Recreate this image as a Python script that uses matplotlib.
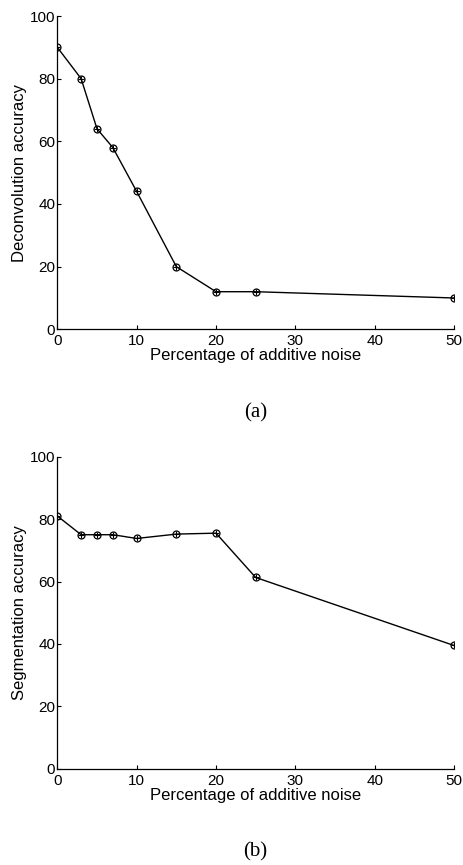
import matplotlib
matplotlib.use("Agg")
import matplotlib.pyplot as plt

plt.rcParams['font.family'] = ['Liberation Sans', 'DejaVu Sans']

# noise levels (%) shared by both experiments
noise = [0, 3, 5, 7, 10, 15, 20, 25, 50]
deconv_acc = [90, 80, 64, 58, 44, 20, 12, 12, 10]
segm_acc = [81, 75, 75, 75, 73.8, 75.2, 75.5, 61.3, 39.5]

x_ticks = [0, 10, 20, 30, 40, 50]
y_ticks = [0, 20, 40, 60, 80, 100]


def draw_panel(ax, y, ylabel, tag):
    ax.plot(noise, y, color='black', linewidth=1.0,
            marker='o', markersize=5, markerfacecolor='none',
            markeredgewidth=0.9)
    ax.plot(noise, y, linestyle='none', color='black',
            marker='+', markersize=5, markeredgewidth=0.8)
    ax.set_xlim(0, 50)
    ax.set_ylim(0, 100)
    ax.set_xticks(x_ticks)
    ax.set_yticks(y_ticks)
    ax.spines['top'].set_visible(False)
    ax.spines['right'].set_visible(False)
    ax.spines['left'].set_linewidth(0.9)
    ax.spines['bottom'].set_linewidth(0.9)
    ax.tick_params(direction='in', length=3, width=0.8, labelsize=11)
    ax.tick_params(axis='x', pad=3.5)
    ax.tick_params(axis='y', pad=1.5)
    ax.set_ylabel(ylabel, fontsize=12, labelpad=2)
    ax.set_xlabel('Percentage of additive noise', fontsize=12, labelpad=0)
    ax.text(0.5, -0.268, tag, transform=ax.transAxes, ha='center', va='center',
            fontsize=15, family=['Liberation Serif', 'DejaVu Serif'])


fig = plt.figure(figsize=(4.63, 8.65), dpi=100)
ax1 = fig.add_axes([0.1238, 0.6193, 0.8568, 0.3622])
ax2 = fig.add_axes([0.1238, 0.1113, 0.8568, 0.3607])

draw_panel(ax1, deconv_acc, 'Deconvolution accuracy', '(a)')
draw_panel(ax2, segm_acc, 'Segmentation accuracy', '(b)')

fig.savefig('out.png', dpi=100)
